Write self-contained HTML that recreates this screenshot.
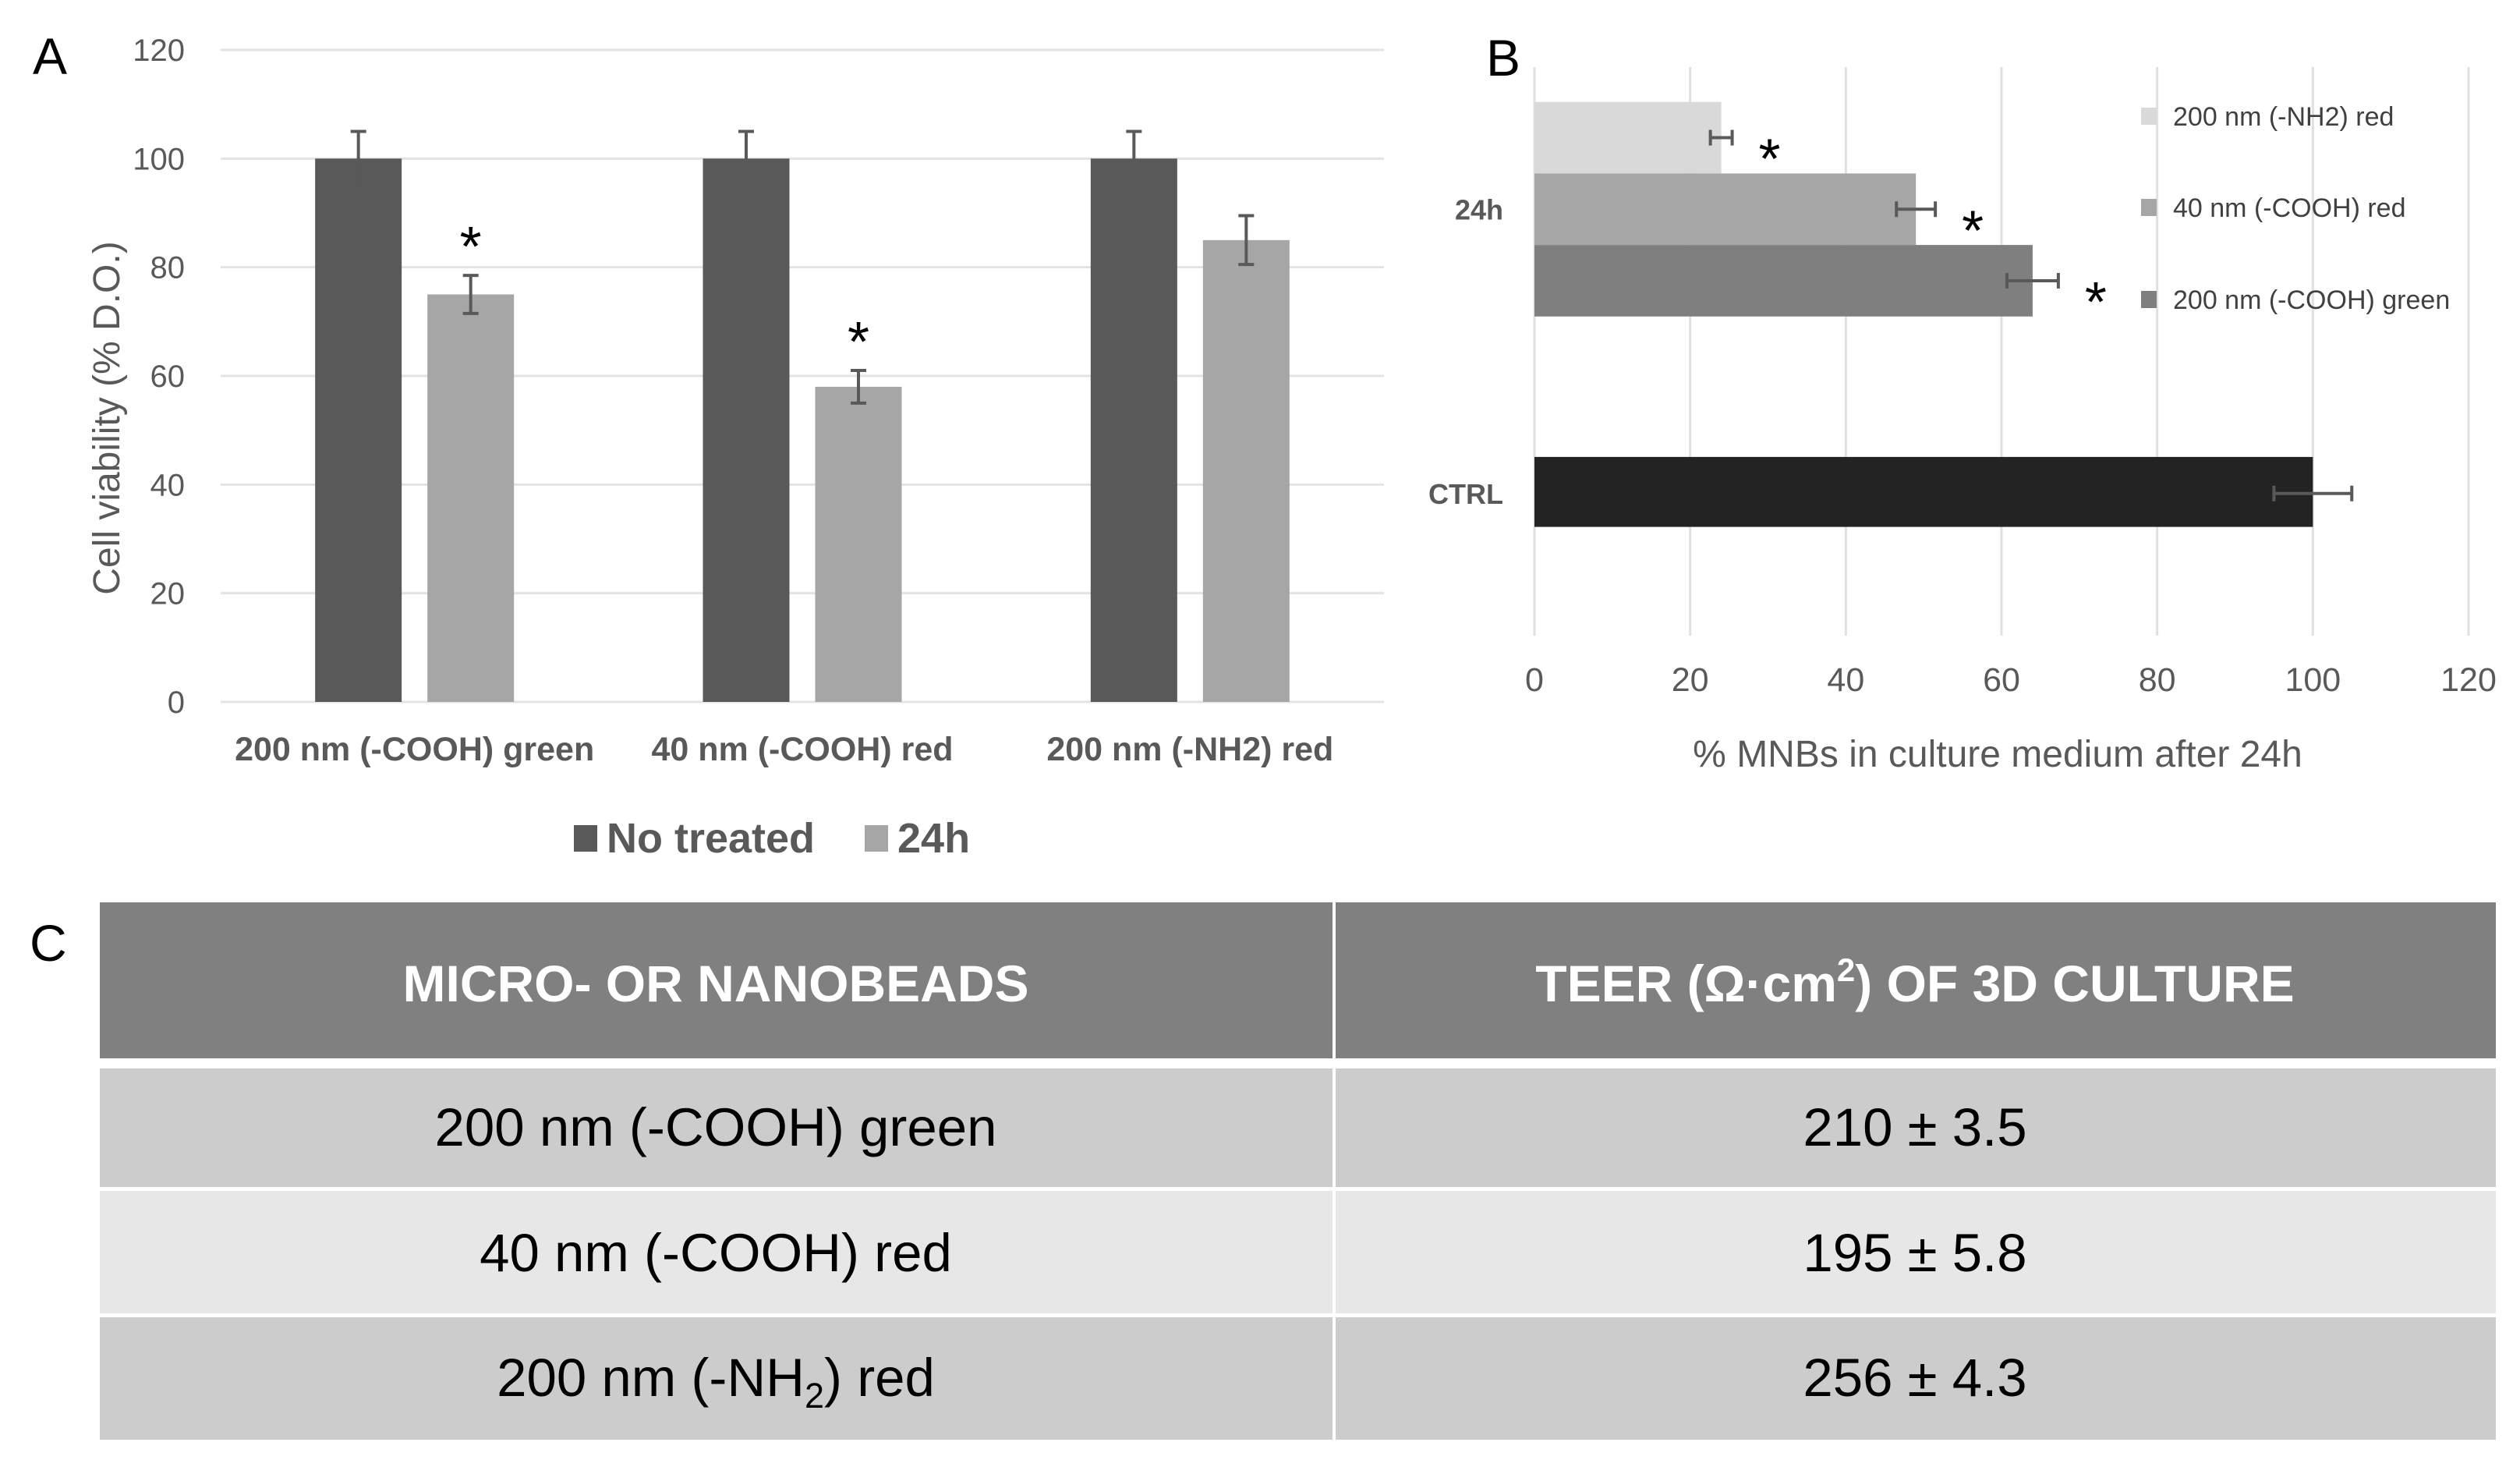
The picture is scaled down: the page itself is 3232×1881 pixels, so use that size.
<!DOCTYPE html>
<html><head><meta charset="utf-8"><style>
html,body{margin:0;padding:0;background:#fff;}
svg{display:block;font-family:"Liberation Sans",sans-serif;}
</style></head><body>
<svg id="fig" width="3232" height="1881" viewBox="0 0 3232 1881" xmlns="http://www.w3.org/2000/svg">
<text x="42" y="95" font-size="66" fill="#000">A</text>
<g id="chartA"></g>
<text x="1906" y="97" font-size="66" fill="#000">B</text>
<g id="chartB"></g>
<text x="38" y="1232" font-size="66" fill="#000">C</text>
<g id="tableC">
  <rect x="128" y="1157" width="3073" height="200" fill="#808080"/>
  <rect x="128" y="1370" width="3073" height="152" fill="#cccccc"/>
  <rect x="128" y="1527" width="3073" height="157" fill="#e7e7e7"/>
  <rect x="128" y="1689" width="3073" height="157" fill="#cccccc"/>
  <rect x="1709" y="1157" width="4" height="689" fill="#fff"/>
  <text x="918" y="1284" font-size="66" font-weight="bold" fill="#fff" text-anchor="middle">MICRO- OR NANOBEADS</text>
  <text x="2456" y="1284" font-size="66" font-weight="bold" fill="#fff" text-anchor="middle">TEER (Ω·cm<tspan dy="-26" font-size="42">2</tspan><tspan dy="26">) OF 3D CULTURE</tspan></text>
  <text x="918" y="1469" font-size="69" fill="#000" text-anchor="middle">200 nm (-COOH) green</text>
  <text x="2456" y="1469" font-size="69" fill="#000" text-anchor="middle">210 ± 3.5</text>
  <text x="918" y="1630" font-size="69" fill="#000" text-anchor="middle">40 nm (-COOH) red</text>
  <text x="2456" y="1630" font-size="69" fill="#000" text-anchor="middle">195 ± 5.8</text>
  <text x="918" y="1790" font-size="69" fill="#000" text-anchor="middle">200 nm (-NH<tspan dy="15" font-size="45">2</tspan><tspan dy="-15">) red</tspan></text>
  <text x="2456" y="1790" font-size="69" fill="#000" text-anchor="middle">256 ± 4.3</text>
</g>
</svg>
<script>
// Chart A data
const aCategories = ["200 nm (-COOH) green", "40 nm (-COOH) red", "200 nm (-NH2) red"];
const aNoTreated = [100, 100, 100];
const aNoTreatedErr = [5, 5, 5];
const a24h = [75, 58, 85];
const a24hErr = [3.5, 3, 4.5];
const aSig = [true, true, false];
const aTicks = [0, 20, 40, 60, 80, 100, 120];
// Chart B data
const bSeriesNames = ["200 nm (-NH2) red", "40 nm (-COOH) red", "200 nm (-COOH) green"];
const b24h = [24, 49, 64];
const b24hErr = [1.4, 2.5, 3.3];
const bCtrl = [100];
const bCtrlErr = [5];
const bTicks = [0, 20, 40, 60, 80, 100, 120];

const NS = "http://www.w3.org/2000/svg";
function mk(parent, tag, attrs, text) {
  const e = document.createElementNS(NS, tag);
  for (const k in attrs) e.setAttribute(k, attrs[k]);
  if (text !== undefined) e.textContent = text;
  parent.appendChild(e);
  return e;
}

// ---------- Chart A ----------
(function () {
  const g = document.getElementById("chartA");
  const x0 = 283, x1 = 1775, y0 = 900, yTop = 64, vmax = 120;
  const yS = v => y0 - (v / vmax) * (y0 - yTop);
  const band = (x1 - x0) / aCategories.length;
  const bw = 111, gap = 33;
  aTicks.forEach(t => {
    const l = mk(g, "line", {x1: x0, x2: x1, y1: yS(t), y2: yS(t), stroke: "#e3e3e3", "stroke-width": 3});
    
    
    const tx = mk(g, "text", {x: 237, y: yS(t) + 14, "font-size": 40, fill: "#595959", "text-anchor": "end"}, String(t));
    
    
  });
  const yt = mk(g, "text", {x: 0, y: 0, "font-size": 48, fill: "#595959", "text-anchor": "middle", transform: "translate(153,536) rotate(-90)"}, "Cell viability (% D.O.)");
  
  
  function errBar(cx, v, e) {
    const gg = mk(g, "g", {stroke: "#595959", "stroke-width": 4});
    
    
    mk(gg, "line", {x1: cx, x2: cx, y1: yS(v - e), y2: yS(v + e)});
    mk(gg, "line", {x1: cx - 10, x2: cx + 10, y1: yS(v + e), y2: yS(v + e)});
    mk(gg, "line", {x1: cx - 10, x2: cx + 10, y1: yS(v - e), y2: yS(v - e)});
  }
  aCategories.forEach((c, i) => {
    const cx = x0 + band * (i + 0.5);
    const xa = cx - gap / 2 - bw, xb = cx + gap / 2;
    const r1 = mk(g, "rect", {x: xa, y: yS(aNoTreated[i]), width: bw, height: y0 - yS(aNoTreated[i]), fill: "#595959"});
    
    
    const r2 = mk(g, "rect", {x: xb, y: yS(a24h[i]), width: bw, height: y0 - yS(a24h[i]), fill: "#a6a6a6"});
    
    
    errBar(xa + bw / 2, aNoTreated[i], aNoTreatedErr[i]);
    errBar(xb + bw / 2, a24h[i], a24hErr[i]);
    if (aSig[i]) {
      const s = mk(g, "text", {x: xb + bw / 2, y: yS(a24h[i] + a24hErr[i]) - 12, "font-size": 72, fill: "#000", "text-anchor": "middle"}, "*");
      
      
    }
    const lb = mk(g, "text", {x: cx, y: 975, "font-size": 43, "font-weight": "bold", fill: "#595959", "text-anchor": "middle"}, c);
    
    
  });
  const legend = [["No treated", "#595959", 736], ["24h", "#a6a6a6", 1109]];
  legend.forEach(([n, col, lx]) => {
    const sw = mk(g, "rect", {x: lx, y: 1058, width: 30, height: 34, fill: col});
    
    
    const t = mk(g, "text", {x: lx + 42, y: 1093, "font-size": 54, "font-weight": "bold", fill: "#595959"}, n);
    
    
  });
})();

// ---------- Chart B ----------
(function () {
  const g = document.getElementById("chartB");
  const x0 = 1968, x1 = 3166, yTop = 86, yBot = 815, vmax = 120;
  const xS = v => x0 + (v / vmax) * (x1 - x0);
  bTicks.forEach(t => {
    const l = mk(g, "line", {x1: xS(t), x2: xS(t), y1: yTop, y2: yBot, stroke: "#e0e0e0", "stroke-width": 3});
    
    
    const tx = mk(g, "text", {x: xS(t), y: 886, "font-size": 43, fill: "#595959", "text-anchor": "middle"}, String(t));
    
    
  });
  const band = (yBot - yTop) / 2;
  const bh = 91.7;
  const cols = ["#d9d9d9", "#a6a6a6", "#7f7f7f"];
  function errBar(cy, v, e) {
    const gg = mk(g, "g", {stroke: "#595959", "stroke-width": 4});
    
    
    mk(gg, "line", {x1: xS(v - e), x2: xS(v + e), y1: cy, y2: cy});
    mk(gg, "line", {x1: xS(v - e), x2: xS(v - e), y1: cy - 10, y2: cy + 10});
    mk(gg, "line", {x1: xS(v + e), x2: xS(v + e), y1: cy - 10, y2: cy + 10});
  }
  const c24 = yTop + band * 0.5;
  const gTop = c24 - bh * b24h.length / 2;
  b24h.forEach((v, i) => {
    const y = gTop + bh * i;
    const r = mk(g, "rect", {x: x0, y: y, width: xS(v) - x0, height: bh, fill: cols[i]});
    
    
    errBar(y + bh / 2, v, b24hErr[i]);
    const s = mk(g, "text", {x: xS(v + b24hErr[i]) + 48, y: y + bh / 2 + 52, "font-size": 72, fill: "#000", "text-anchor": "middle"}, "*");
    
    
  });
  const cC = yTop + band * 1.5;
  const rc = mk(g, "rect", {x: x0, y: cC - bh / 2 - 1, width: xS(bCtrl[0]) - x0, height: bh - 2, fill: "#232323"});
  
  
  errBar(cC, bCtrl[0], bCtrlErr[0]);
  [["24h", c24], ["CTRL", cC]].forEach(([n, cy]) => {
    const t = mk(g, "text", {x: 1928, y: cy + 13, "font-size": 36, "font-weight": "bold", fill: "#595959", "text-anchor": "end"}, n);
    
    
  });
  const xt = mk(g, "text", {x: 2562, y: 983, "font-size": 48, fill: "#595959", "text-anchor": "middle"}, "% MNBs in culture medium after 24h");
  
  
  const ly = [149, 266, 384];
  bSeriesNames.forEach((n, i) => {
    const sw = mk(g, "rect", {x: 2746, y: ly[i] - 11, width: 20, height: 22, fill: cols[i]});
    
    
    const t = mk(g, "text", {x: 2787, y: ly[i] + 12, "font-size": 34, fill: "#404040"}, n);
    
    
  });
})();
</script>
</body></html>
